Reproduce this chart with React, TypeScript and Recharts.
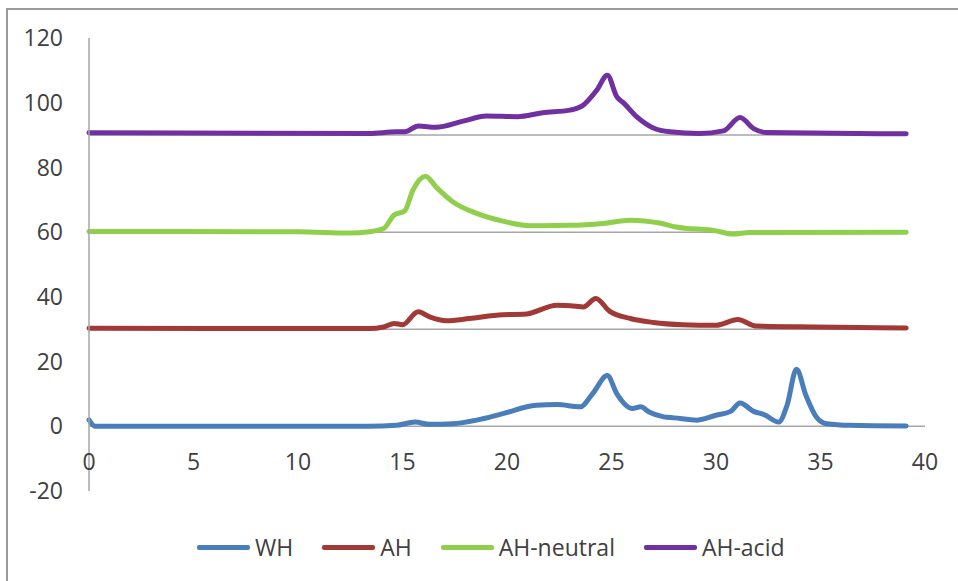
import { Line, LineChart, ReferenceLine, XAxis, YAxis } from 'recharts';

const xTicks = [0, 5, 10, 15, 20, 25, 30, 35, 40];
const yTicks = [-20, 0, 20, 40, 60, 80, 100, 120];
const baselineLevels = [30, 60, 90];
const baselineEnd = 39.1;

const whTime = [0, 0.3, 5, 10, 13.4, 14.7, 15.6, 16.3, 17.4, 18.55, 19.8, 21.4, 22.4, 23.5, 24.1, 24.8, 25.25, 26.0, 26.4, 26.8, 27.5, 28.0, 29.1, 30.0, 30.7, 31.15, 31.8, 32.3, 33.0, 33.4, 33.85, 34.3, 34.8, 35.3, 36.4, 39.1];
const whValues = [2, 0, 0, 0, 0, 0.3, 1.3, 0.6, 0.8, 1.9, 3.9, 6.5, 6.7, 6.0, 10.1, 15.7, 10.1, 5.5, 6.0, 4.4, 2.9, 2.6, 1.9, 3.4, 4.6, 7.2, 4.6, 3.6, 1.3, 6.5, 17.6, 9.6, 2.9, 0.8, 0.3, 0.1];

const ahTime = [0, 13.4, 14.1, 14.6, 15.0, 15.75, 16.3, 17.1, 18.2, 19.8, 20.8, 22.4, 23.3, 23.65, 24.25, 24.9, 25.9, 27.0, 28.4, 30.0, 31.05, 31.9, 34.8, 39.1];
const ahValues = [30.3, 30.2, 30.7, 31.8, 31.4, 35.4, 33.8, 32.6, 33.3, 34.5, 34.6, 37.4, 37.1, 36.9, 39.5, 35.6, 33.3, 32.1, 31.4, 31.2, 33.0, 31.0, 30.7, 30.4];

const neutralTime = [0, 10, 12.5, 13.4, 14.1, 14.6, 15.1, 15.5, 16.1, 16.6, 17.4, 18.55, 19.8, 21.1, 23.0, 24.6, 25.9, 27.3, 28.1, 30.0, 30.8, 31.6, 39.1];
const neutralValues = [60.2, 60.1, 59.7, 60.1, 61.1, 65.3, 66.5, 73.0, 77.3, 74.0, 69.4, 65.8, 63.4, 62.0, 62.1, 62.7, 63.7, 62.8, 61.6, 60.4, 59.4, 59.9, 60.0];

const acidTime = [0, 13.4, 14.7, 15.1, 15.76, 16.6, 17.9, 19.0, 20.5, 21.7, 23.0, 23.6, 24.3, 24.8, 25.25, 25.6, 26.2, 27.0, 27.8, 29.2, 30.35, 31.15, 31.8, 32.4, 39.1];
const acidValues = [90.7, 90.5, 91.0, 91.0, 92.8, 92.4, 94.3, 95.9, 95.7, 96.9, 97.7, 99.0, 103.9, 108.5, 101.9, 99.8, 95.7, 92.2, 91.0, 90.5, 91.3, 95.4, 92.0, 90.8, 90.4];

const toPoints = (time: number[], values: number[]) =>
  time.map((t, i) => ({ t, v: values[i] }));

const series = [
  { name: 'WH', color: '#4a7ebb', data: toPoints(whTime, whValues) },
  { name: 'AH', color: '#a13a36', data: toPoints(ahTime, ahValues) },
  { name: 'AH-neutral', color: '#8fcf4c', data: toPoints(neutralTime, neutralValues) },
  { name: 'AH-acid', color: '#7030a0', data: toPoints(acidTime, acidValues) },
];

const font = '"Open Sans", sans-serif';
const textColor = '#404040';
const axisColor = '#a6a6a6';

// x labels sit just under the y=0 line, not at the bottom of the plot
const renderXTick = ({ x, y, payload }: any) => (
  <text
    x={x}
    y={y - 30}
    textAnchor="middle"
    dominantBaseline="central"
    fill={textColor}
    fontSize={23}
    fontFamily={font}
  >
    {payload.value}
  </text>
);

export default function App() {
  return (
    <div style={{ position: 'absolute', left: 0, top: 0, width: 958, height: 581, background: '#fff' }}>
      <div
        style={{
          position: 'absolute',
          left: 6,
          top: 8,
          width: 960,
          height: 580,
          borderTop: '2px solid #9a9a9a',
          borderLeft: '2px solid #9a9a9a',
        }}
      />
      <LineChart
        width={958}
        height={581}
        margin={{ top: 38, right: 33, bottom: 60, left: 29 }}
        style={{ position: 'absolute', left: 0, top: 0 }}
      >
        <XAxis
          dataKey="t"
          type="number"
          domain={[0, 40]}
          ticks={xTicks}
          axisLine={false}
          tickLine={false}
          tickSize={0}
          tickMargin={0}
          height={30}
          tick={renderXTick}
          interval={0}
          allowDuplicatedCategory={false}
        />
        <YAxis
          type="number"
          domain={[-20, 120]}
          ticks={yTicks}
          width={60}
          axisLine={{ stroke: axisColor, strokeWidth: 1.5 }}
          tickLine={false}
          tickSize={0}
          tickMargin={26}
          tick={{ fill: textColor, fontSize: 23, fontFamily: font }}
        />
        <ReferenceLine y={0} stroke={axisColor} strokeWidth={1.5} />
        {baselineLevels.map((level) => (
          <ReferenceLine
            key={level}
            segment={[
              { x: 0, y: level },
              { x: baselineEnd, y: level },
            ]}
            stroke={axisColor}
            strokeWidth={1.5}
          />
        ))}
        {series.map((s) => (
          <Line
            key={s.name}
            name={s.name}
            data={s.data}
            dataKey="v"
            type="monotone"
            stroke={s.color}
            strokeWidth={5}
            strokeLinejoin="round"
            strokeLinecap="round"
            dot={false}
            activeDot={false}
            isAnimationActive={false}
          />
        ))}
      </LineChart>
      <div
        style={{
          position: 'absolute',
          left: 197,
          top: 531,
          display: 'flex',
          alignItems: 'center',
          gap: 29,
          fontFamily: font,
          fontSize: 23,
          color: textColor,
        }}
      >
        {series.map((s) => (
          <div key={s.name} style={{ display: 'flex', alignItems: 'center', gap: 5 }}>
            <div style={{ width: 53, height: 5, background: s.color, borderRadius: 2 }} />
            <span>{s.name}</span>
          </div>
        ))}
      </div>
    </div>
  );
}
